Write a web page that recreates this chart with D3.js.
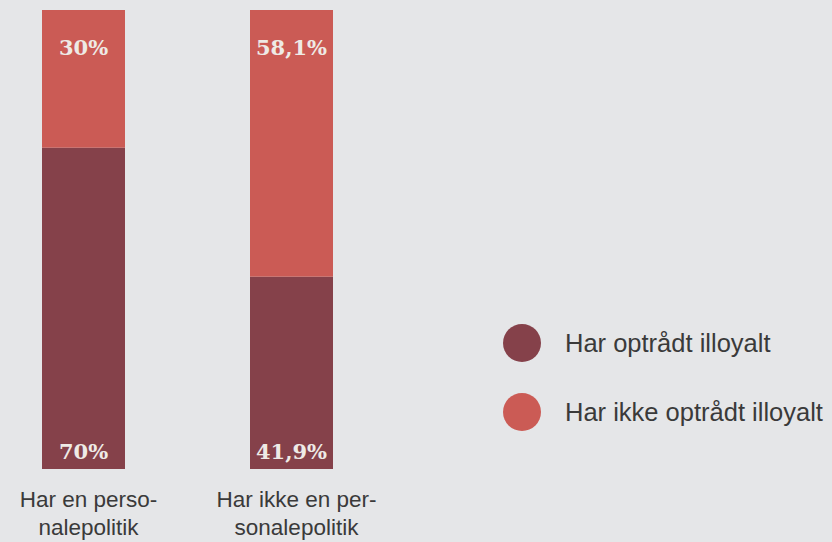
<!DOCTYPE html>
<html>
<head>
<meta charset="utf-8">
<script src="https://cdn.jsdelivr.net/npm/d3@7"></script>
<style>
  html, body { margin: 0; padding: 0; background: #e5e6e8; }
  svg { display: block; }
</style>
</head>
<body>
<svg id="chart" width="832" height="542"></svg>
<script>
// Share of respondents, per group
const categories = [["Har en perso-", "nalepolitik"], ["Har ikke en per-", "sonalepolitik"]];
const categoryKeys = ["a", "b"];
const illoyal = [70, 41.9];        // Har optrådt illoyalt
const notIlloyal = [30, 58.1];     // Har ikke optrådt illoyalt
const illoyalLabels = ["70%", "41,9%"];
const notIlloyalLabels = ["30%", "58,1%"];
const seriesNames = ["Har optrådt illoyalt", "Har ikke optrådt illoyalt"];
const colors = ["#85414a", "#cb5b55"];

const svg = d3.select("#chart");

const x = d3.scaleOrdinal().domain(categoryKeys).range([42, 250]);
const barW = 83;
const y = d3.scaleLinear().domain([0, 100]).range([469, 10]);

const rows = categoryKeys.map((k, i) => ({ key: k, dark: illoyal[i], light: notIlloyal[i], i }));

// lower segment: illoyal
svg.selectAll("rect.dark").data(rows).join("rect")
  .attr("class", "dark")
  .attr("x", d => x(d.key)).attr("width", barW)
  .attr("y", d => y(d.dark)).attr("height", d => y(0) - y(d.dark))
  .attr("fill", colors[0]);

// upper segment: not illoyal
svg.selectAll("rect.light").data(rows).join("rect")
  .attr("class", "light")
  .attr("x", d => x(d.key)).attr("width", barW)
  .attr("y", d => y(d.dark + d.light)).attr("height", d => y(d.dark) - y(d.dark + d.light))
  .attr("fill", colors[1]);

const valueFont = "'DejaVu Serif', 'Liberation Serif', serif";

svg.selectAll("text.top").data(rows).join("text")
  .attr("class", "top")
  .attr("x", d => x(d.key) + barW / 2)
  .attr("y", d => y(d.dark + d.light) + 45)
  .attr("text-anchor", "middle")
  .attr("font-family", valueFont).attr("font-weight", "bold").attr("font-size", 21)
  .attr("fill", "#eeeae6")
  .text(d => notIlloyalLabels[d.i]);

svg.selectAll("text.bottom").data(rows).join("text")
  .attr("class", "bottom")
  .attr("x", d => x(d.key) + barW / 2)
  .attr("y", y(0) - 10)
  .attr("text-anchor", "middle")
  .attr("font-family", valueFont).attr("font-weight", "bold").attr("font-size", 21)
  .attr("fill", "#eeeae6")
  .text(d => illoyalLabels[d.i]);

// category labels under the bars
const catText = svg.selectAll("text.cat").data(rows).join("text")
  .attr("class", "cat")
  .attr("text-anchor", "middle")
  .attr("font-family", "'Liberation Sans', Arial, sans-serif")
  .attr("font-size", 22.5)
  .attr("fill", "#3a3a3a");
catText.selectAll("tspan").data(d => categories[d.i].map(t => ({ t, d }))).join("tspan")
  .attr("x", o => x(o.d.key) + barW / 2 + 5)
  .attr("y", (o, j) => 507 + j * 28)
  .text(o => o.t);

// legend
const legend = svg.selectAll("g.leg").data(seriesNames).join("g")
  .attr("class", "leg")
  .attr("transform", (d, i) => `translate(522, ${343 + i * 69})`);
legend.append("circle").attr("r", 19).attr("fill", (d, i) => colors[i]);
legend.append("text")
  .attr("x", 43).attr("y", 9)
  .attr("font-family", "'Liberation Sans', Arial, sans-serif")
  .attr("font-size", 25.5)
  .attr("fill", "#3a3a3a")
  .text(d => d);
</script>
</body>
</html>
